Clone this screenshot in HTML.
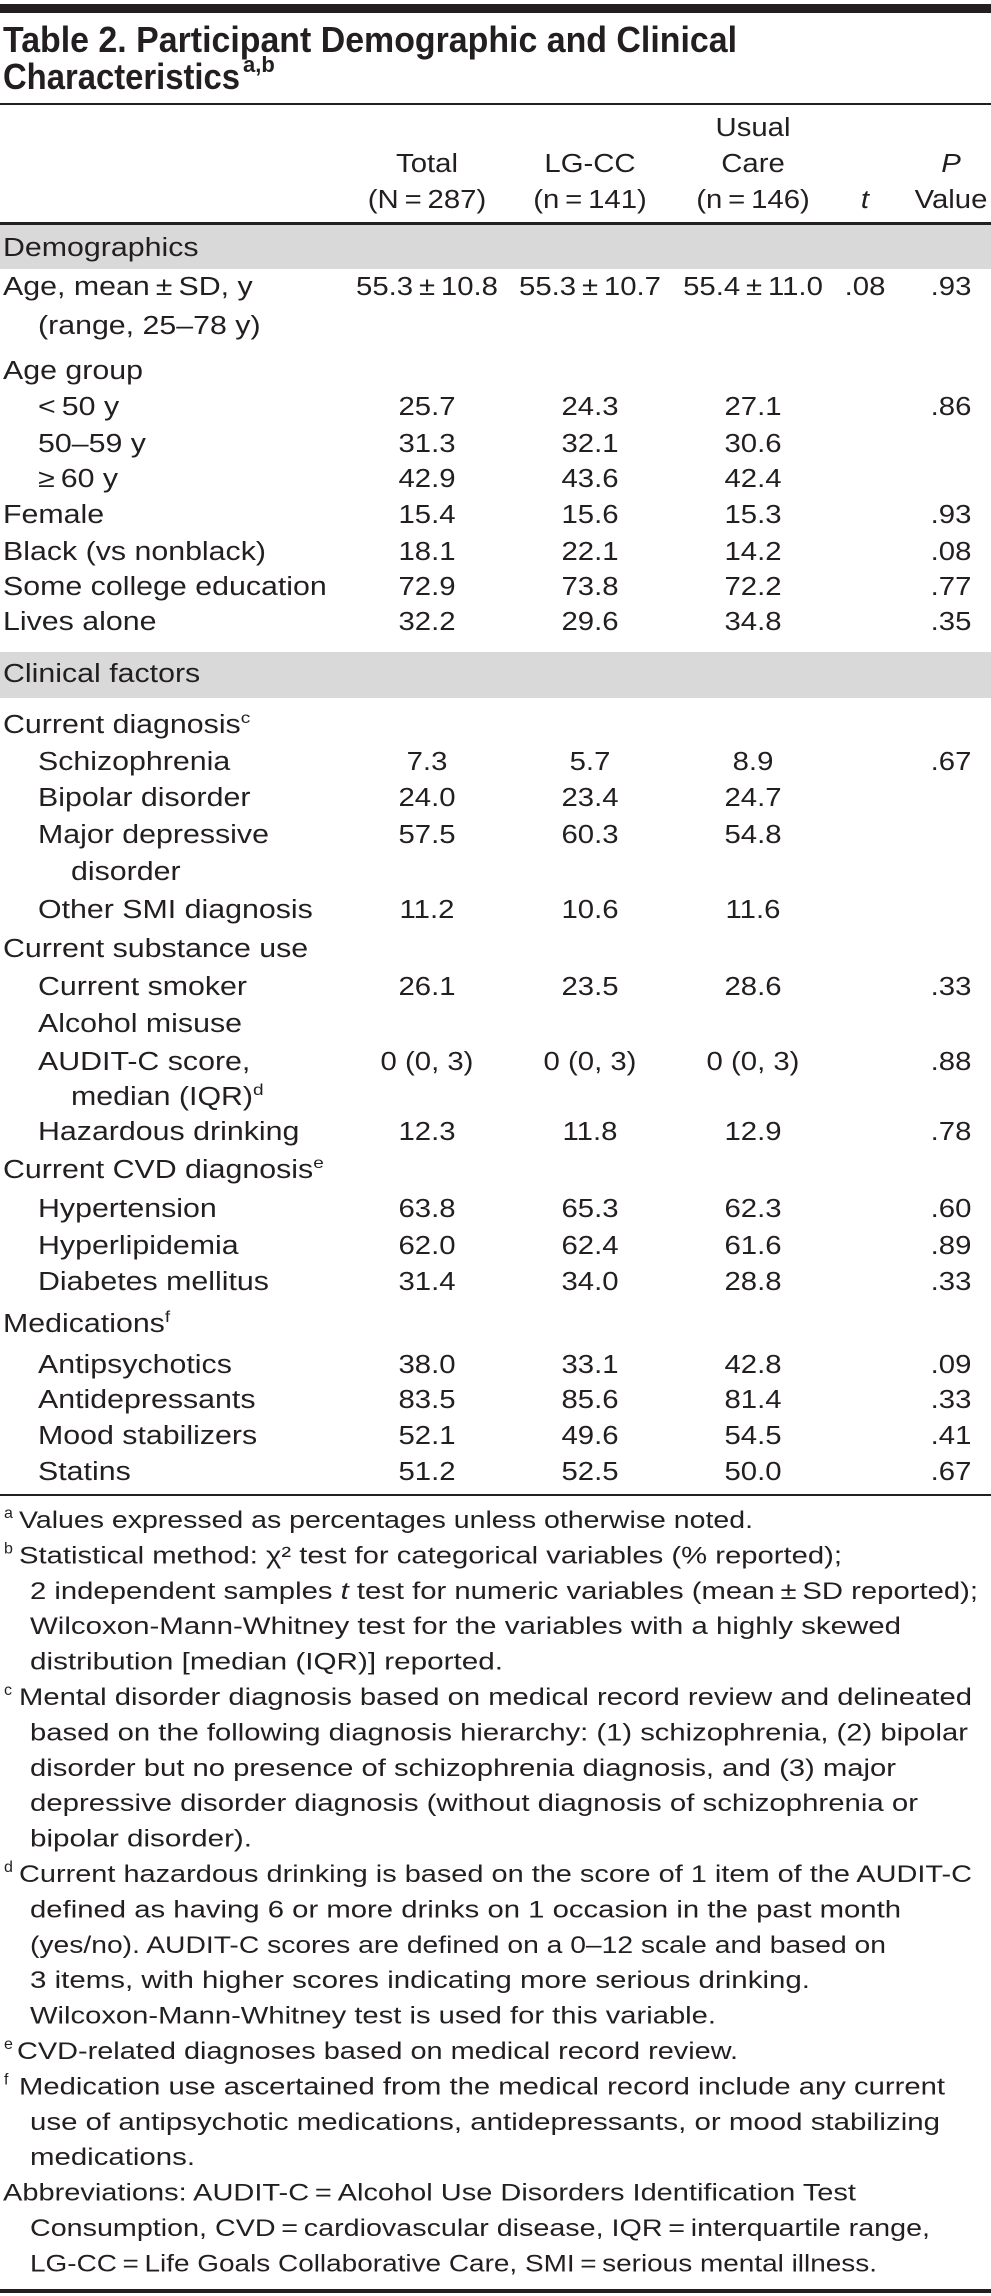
<!DOCTYPE html>
<html><head><meta charset="utf-8"><style>
html,body{margin:0;padding:0;background:#fff;}
svg{display:block;}
text{font-family:"Liberation Sans",sans-serif;fill:#231f20;}
</style></head>
<body>
<svg id="tbl" width="991" height="2296" viewBox="0 0 991 2296" xmlns="http://www.w3.org/2000/svg">
  <rect x="0" y="4" width="991" height="9" fill="#231f20"/>
  <text x="3" y="52" font-size="36" font-weight="bold" textLength="734" lengthAdjust="spacingAndGlyphs">Table 2. Participant Demographic and Clinical</text>
  <text x="3" y="89" font-size="36" font-weight="bold" textLength="237" lengthAdjust="spacingAndGlyphs">Characteristics</text>
  <text x="243" y="72" font-size="22" font-weight="bold">a,b</text>
  <rect x="0" y="103" width="991" height="2" fill="#231f20"/>
  <rect x="0" y="222" width="991" height="3" fill="#231f20"/>
  <rect x="0" y="225" width="991" height="44" fill="#d9d9d9"/>
  <rect x="0" y="652" width="991" height="46" fill="#d9d9d9"/>
  <rect x="0" y="1494" width="991" height="2" fill="#231f20"/>
  <rect x="0" y="2289" width="991" height="4" fill="#231f20"/>
  <g id="content"></g>
</svg>
<script>
var NS = "http://www.w3.org/2000/svg";
var root = document.getElementById("content");
var colX = [427, 590, 753, 865, 951];
var indentX = [3, 38, 71];

function txt(str, x, y, anchor, size, name, extra, sx) {
  var t = document.createElementNS(NS, "text");
  t.setAttribute("transform", "translate(" + x + "," + y + ") scale(" + (sx || 1.15) + ",1)");
  t.setAttribute("text-anchor", anchor);
  t.setAttribute("font-size", size);
  if (extra && extra.italic) t.setAttribute("font-style", "italic");
  t.textContent = str;
  
  
  if (extra && extra.sup) {
    var s = document.createElementNS(NS, "tspan");
    s.setAttribute("font-size", "16");
    s.setAttribute("dy", "-10");
    s.textContent = extra.sup;
    t.appendChild(s);
  }
  root.appendChild(t);
  return t;
}

// header
txt("Usual", colX[2], 136, "middle", 25.5, "header-usual");
txt("Total", colX[0], 172, "middle", 25.5, "header-total");
txt("LG-CC", colX[1], 172, "middle", 25.5, "header-lgcc");
txt("Care", colX[2], 172, "middle", 25.5, "header-care");
txt("P", colX[4], 172, "middle", 25.5, "header-p", {italic: true});
txt("(N\u2009=\u2009287)", colX[0], 208, "middle", 25.5, "header-total-n");
txt("(n\u2009=\u2009141)", colX[1], 208, "middle", 25.5, "header-lgcc-n");
txt("(n\u2009=\u2009146)", colX[2], 208, "middle", 25.5, "header-usual-n");
txt("t", colX[3], 208, "middle", 25.5, "header-t", {italic: true});
txt("Value", colX[4], 208, "middle", 25.5, "header-value");
txt("Demographics", 3, 256, "start", 25.5, "section-demographics", null, 1.19);
txt("Clinical factors", 3, 682, "start", 25.5, "section-clinical", null, 1.19);

var rowLabels = ["Age, mean\u2009\u00b1\u2009SD, y","(range, 25\u201378 y)","Age group","<\u200950 y","50\u201359 y","\u2265\u200960 y","Female","Black (vs nonblack)","Some college education","Lives alone",
"Current diagnosis","Schizophrenia","Bipolar disorder","Major depressive","disorder","Other SMI diagnosis","Current substance use","Current smoker","Alcohol misuse","AUDIT-C score,","median (IQR)","Hazardous drinking","Current CVD diagnosis","Hypertension","Hyperlipidemia","Diabetes mellitus","Medications","Antipsychotics","Antidepressants","Mood stabilizers","Statins"];
var rowSups = ["","","","","","","","","","","c","","","","","","","","","","d","","e","","","","f","","","",""];
var rowIndent = [0,1,0,1,1,1,0,0,0,0, 0,1,1,1,2,1,0,1,1,1,2,1,0,1,1,1,0,1,1,1,1];
var rowY = [295,334,379,415,452,487,523,560,595,630, 733,770,806,843,880,918,957,995,1032,1070,1105,1140,1178,1217,1254,1290,1332,1373,1408,1444,1480];
var totalVals = ["55.3\u2009\u00b1\u200910.8","","","25.7","31.3","42.9","15.4","18.1","72.9","32.2","","7.3","24.0","57.5","","11.2","","26.1","","0 (0, 3)","","12.3","","63.8","62.0","31.4","","38.0","83.5","52.1","51.2"];
var lgccVals = ["55.3\u2009\u00b1\u200910.7","","","24.3","32.1","43.6","15.6","22.1","73.8","29.6","","5.7","23.4","60.3","","10.6","","23.5","","0 (0, 3)","","11.8","","65.3","62.4","34.0","","33.1","85.6","49.6","52.5"];
var usualVals = ["55.4\u2009\u00b1\u200911.0","","","27.1","30.6","42.4","15.3","14.2","72.2","34.8","","8.9","24.7","54.8","","11.6","","28.6","","0 (0, 3)","","12.9","","62.3","61.6","28.8","","42.8","81.4","54.5","50.0"];
var tVals = [".08","","","","","","","","","","","","","","","","","","","","","","","","","","","","","",""];
var pVals = [".93","","",".86","","",".93",".08",".77",".35","",".67","","","","","",".33","",".88","",".78","",".60",".89",".33","",".09",".33",".41",".67"];

for (var i = 0; i < rowLabels.length; i++) {
  var y = rowY[i];
  txt(rowLabels[i], indentX[rowIndent[i]], y, "start", 25.5, "row-label", rowSups[i] ? {sup: rowSups[i]} : null, 1.19);
  if (totalVals[i]) txt(totalVals[i], colX[0], y, "middle", 25.5, "cell-total");
  if (lgccVals[i]) txt(lgccVals[i], colX[1], y, "middle", 25.5, "cell-lgcc");
  if (usualVals[i]) txt(usualVals[i], colX[2], y, "middle", 25.5, "cell-usual");
  if (tVals[i]) txt(tVals[i], colX[3], y, "middle", 25.5, "cell-t");
  if (pVals[i]) txt(pVals[i], colX[4], y, "middle", 25.5, "cell-p");
}

var fnMarks = ["a","b","","","","c","","","","","d","","","","","e","f","","","","",""];
var fnText = ["Values expressed as percentages unless otherwise noted.",
"Statistical method: \u03c7\u00b2 test for categorical variables (% reported);",
"2 independent samples |t| test for numeric variables (mean\u2009\u00b1\u2009SD reported);",
"Wilcoxon-Mann-Whitney test for the variables with a highly skewed",
"distribution [median (IQR)] reported.",
"Mental disorder diagnosis based on medical record review and delineated",
"based on the following diagnosis hierarchy: (1) schizophrenia, (2) bipolar",
"disorder but no presence of schizophrenia diagnosis, and (3) major",
"depressive disorder diagnosis (without diagnosis of schizophrenia or",
"bipolar disorder).",
"Current hazardous drinking is based on the score of 1 item of the AUDIT-C",
"defined as having 6 or more drinks on 1 occasion in the past month",
"(yes/no). AUDIT-C scores are defined on a 0\u201312 scale and based on",
"3 items, with higher scores indicating more serious drinking.",
"Wilcoxon-Mann-Whitney test is used for this variable.",
"CVD-related diagnoses based on medical record review.",
"Medication use ascertained from the medical record include any current",
"use of antipsychotic medications, antidepressants, or mood stabilizing",
"medications.",
"Abbreviations: AUDIT-C\u2009=\u2009Alcohol Use Disorders Identification Test",
"Consumption, CVD\u2009=\u2009cardiovascular disease, IQR\u2009=\u2009interquartile range,",
"LG-CC\u2009=\u2009Life Goals Collaborative Care, SMI\u2009=\u2009serious mental illness."];
var fnStart = [19,19,30,30,30,19,30,30,30,30,19,30,30,30,30,17,19,30,30,3,30,30];
var fnEnd = [753,842,978,901,503,972,968,896,918,252,972,901,886,810,716,738,945,940,195,856,930,877];

for (var k = 0; k < fnText.length; k++) {
  var fy = 1528 + k * 35.4;
  var t = document.createElementNS(NS, "text");
  t.setAttribute("x", fnStart[k]);
  t.setAttribute("y", fy);
  t.setAttribute("font-size", "24.5");
  t.setAttribute("textLength", fnEnd[k] - fnStart[k]);
  t.setAttribute("lengthAdjust", "spacingAndGlyphs");
  var parts = fnText[k].split("|");
  for (var p = 0; p < parts.length; p++) {
    var sp = document.createElementNS(NS, "tspan");
    if (p % 2 === 1) sp.setAttribute("font-style", "italic");
    sp.textContent = parts[p];
    t.appendChild(sp);
  }
  
  
  root.appendChild(t);
  if (fnMarks[k]) {
    var m = document.createElementNS(NS, "text");
    m.setAttribute("x", 4);
    m.setAttribute("y", fy - 10);
    m.setAttribute("font-size", "16");
    m.textContent = fnMarks[k];
    
    
    root.appendChild(m);
  }
}
</script>
</body></html>
